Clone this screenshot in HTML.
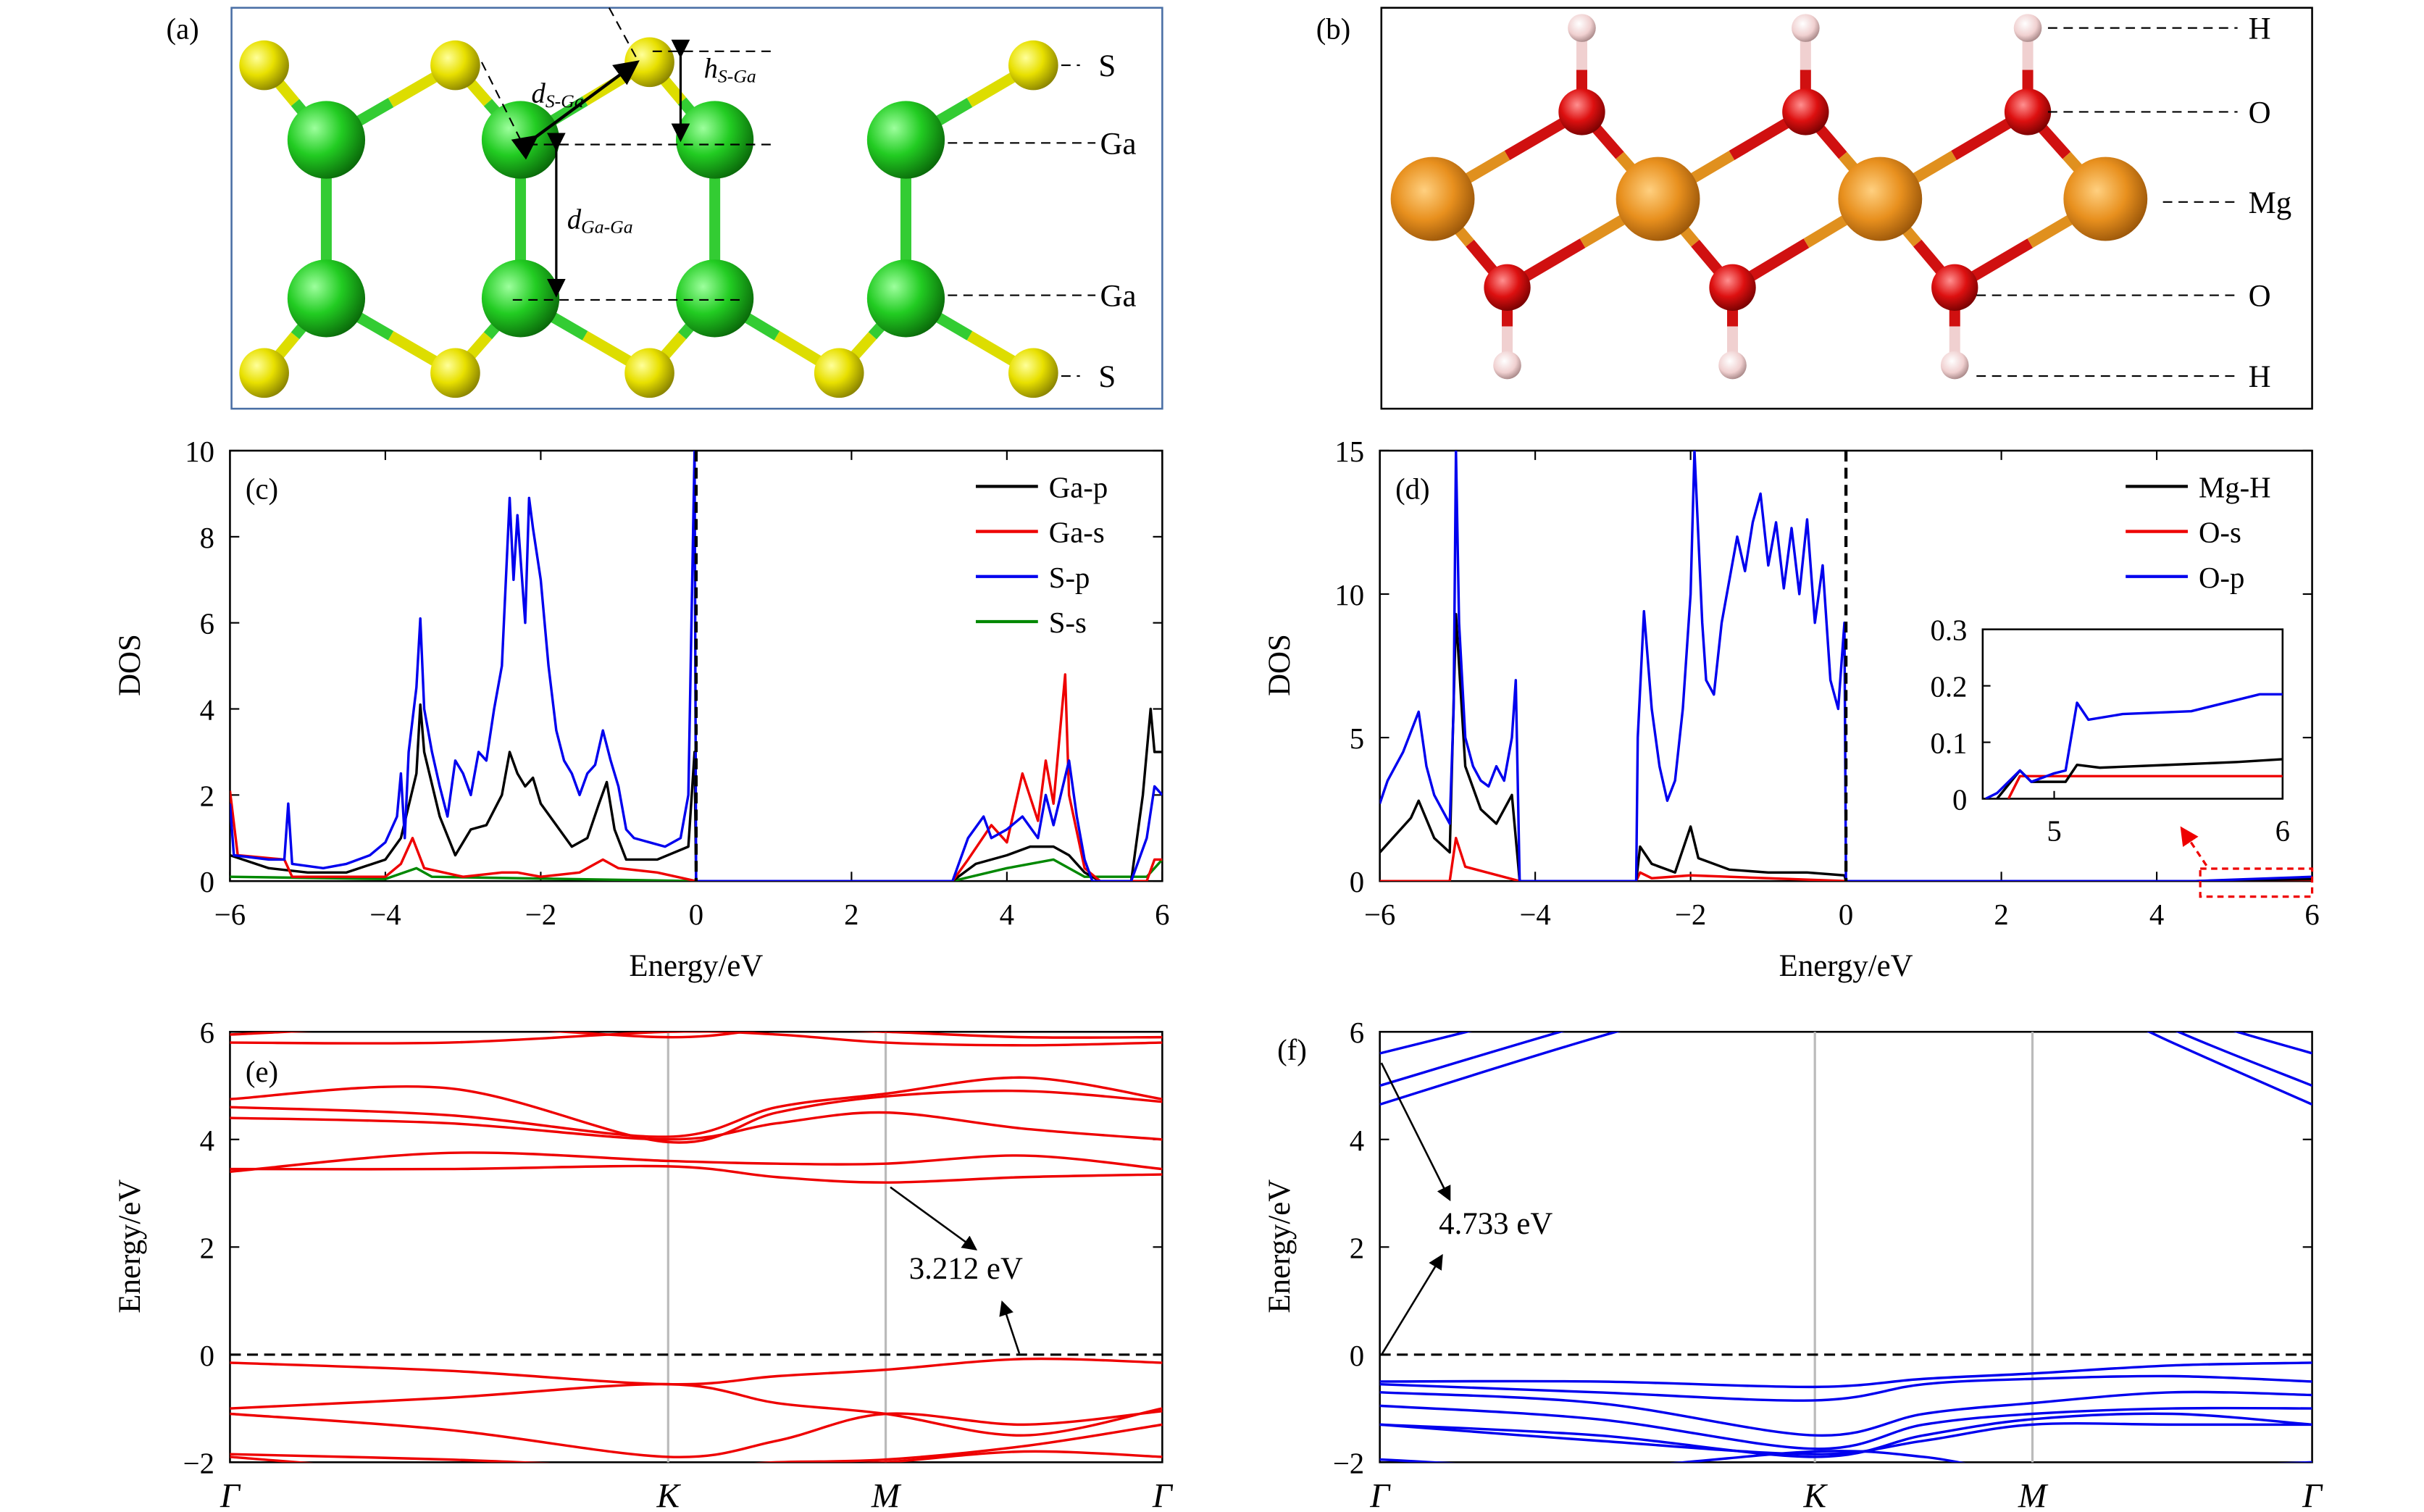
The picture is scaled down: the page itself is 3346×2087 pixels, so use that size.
<!DOCTYPE html>
<html><head><meta charset="utf-8">
<style>
html,body{margin:0;padding:0;background:#fff;}
svg{display:block;font-family:"Liberation Serif",serif;}
</style></head>
<body>
<svg id="fig" width="3346" height="2087" viewBox="0 0 1560 973" xmlns="http://www.w3.org/2000/svg">
<defs>
<radialGradient id="gS" cx="35%" cy="35%" r="70%"><stop offset="0" stop-color="#ffff9a"/><stop offset="0.5" stop-color="#e8e000"/><stop offset="1" stop-color="#8a8400"/></radialGradient>
<radialGradient id="gG" cx="35%" cy="35%" r="70%"><stop offset="0" stop-color="#9dff9d"/><stop offset="0.5" stop-color="#22cc22"/><stop offset="1" stop-color="#0a6a0a"/></radialGradient>
<radialGradient id="gM" cx="40%" cy="40%" r="70%"><stop offset="0" stop-color="#ffd080"/><stop offset="0.5" stop-color="#e8901e"/><stop offset="1" stop-color="#8a4a05"/></radialGradient>
<radialGradient id="gO" cx="40%" cy="35%" r="70%"><stop offset="0" stop-color="#ff9090"/><stop offset="0.5" stop-color="#dd1010"/><stop offset="1" stop-color="#700000"/></radialGradient>
<radialGradient id="gH" cx="40%" cy="35%" r="70%"><stop offset="0" stop-color="#fff"/><stop offset="0.6" stop-color="#f0d0d0"/><stop offset="1" stop-color="#a08080"/></radialGradient>
<clipPath id="clipC"><rect x="148" y="290" width="600" height="277"/></clipPath>
<clipPath id="clipD"><rect x="888" y="290" width="600" height="277"/></clipPath>
<clipPath id="clipE"><rect x="148" y="664" width="600" height="277"/></clipPath>
<clipPath id="clipF"><rect x="888" y="664" width="600" height="277"/></clipPath>
<clipPath id="clipI"><rect x="1276" y="405" width="193" height="109"/></clipPath>
<marker id="ah" markerWidth="8" markerHeight="8" refX="7" refY="4" orient="auto"><path d="M0,0 L8,4 L0,8 Z" fill="#000"/></marker>
<marker id="ahr" markerWidth="8" markerHeight="8" refX="7" refY="4" orient="auto"><path d="M0,0 L8,4 L0,8 Z" fill="#e00"/></marker>
</defs>
<g id="root"></g>
</svg>
<script>
const cGapE = [-6,-5.95,-5.5,-5.3,-5.25,-5.2,-4.8,-4.5,-4.2,-4,-3.85,-3.8,-3.75,-3.7,-3.6,-3.55,-3.5,-3.4,-3.3,-3.2,-3.1,-3,-2.9,-2.8,-2.7,-2.6,-2.5,-2.4,-2.35,-2.3,-2.2,-2.15,-2.1,-2.0,-1.9,-1.8,-1.7,-1.6,-1.5,-1.4,-1.3,-1.2,-1.1,-1.0,-0.9,-0.8,-0.6,-0.4,-0.2,-0.1,-0.02,0,3.3,3.5,3.7,3.8,4,4.2,4.4,4.5,4.6,4.8,4.9,5,5.1,5.6,5.8,5.9,6];
const cSp = [1.8,0.6,0.5,0.5,1.8,0.4,0.3,0.4,0.6,0.9,1.5,2.5,1,3,4.5,6.1,4,3,2.2,1.5,2.8,2.5,2,3,2.8,4,5,8.9,7,8.5,6,8.9,8.2,7,5,3.5,2.8,2.5,2,2.5,2.7,3.5,2.8,2.2,1.2,1.0,0.9,0.8,1.0,2,10,0,0,1,1.5,1,1.2,1.5,1,2,1.3,2.8,1.5,0.5,0,0,1,2.2,2];
const cGapE2 = [-6,-5.5,-5,-4.5,-4,-3.8,-3.6,-3.55,-3.5,-3.3,-3.1,-2.9,-2.7,-2.5,-2.4,-2.3,-2.2,-2.1,-2,-1.8,-1.6,-1.4,-1.25,-1.15,-1.05,-0.9,-0.5,-0.1,-0.02,0,3.3,3.6,4,4.3,4.6,4.8,5,5.2,5.6,5.75,5.85,5.9,6];
const cGap = [0.6,0.3,0.2,0.2,0.5,1,2.5,4.1,3,1.5,0.6,1.2,1.3,2,3,2.5,2.2,2.4,1.8,1.3,0.8,1,1.8,2.3,1.2,0.5,0.5,0.8,3,0,0,0.4,0.6,0.8,0.8,0.6,0.2,0,0,2,4,3,3];
const cGasE = [-6,-5.9,-5.3,-5.2,-4,-3.8,-3.65,-3.5,-3,-2.5,-2.3,-2,-1.5,-1.2,-1,-0.5,0,3.3,3.5,3.8,4,4.2,4.4,4.5,4.6,4.75,4.8,5,5.2,5.8,5.9,6];
const cGas = [2.1,0.6,0.5,0.1,0.1,0.4,1,0.3,0.1,0.2,0.2,0.1,0.2,0.5,0.3,0.2,0,0,0.5,1.3,0.9,2.5,1.4,2.8,1.8,4.8,2,0.3,0,0,0.5,0.5];
const cSsE = [-6,-4,-3.6,-3.4,0,3.3,4,4.6,5,5.8,6];
const cSs = [0.1,0.05,0.3,0.1,0,0,0.3,0.5,0.1,0.1,0.5];
const dOpE = [-6,-5.9,-5.8,-5.7,-5.6,-5.5,-5.4,-5.3,-5.2,-5.1,-5.05,-5.02,-4.98,-4.9,-4.8,-4.7,-4.6,-4.5,-4.4,-4.3,-4.25,-4.2,-2.7,-2.68,-2.6,-2.5,-2.4,-2.3,-2.2,-2.1,-2,-1.95,-1.9,-1.85,-1.8,-1.7,-1.6,-1.5,-1.4,-1.3,-1.2,-1.1,-1,-0.9,-0.8,-0.7,-0.6,-0.5,-0.4,-0.3,-0.2,-0.1,-0.02,0,4.5,6];
const dOp = [2.7,3.5,4,4.5,5.2,5.9,4,3,2.5,2,6,15,9,5,4,3.5,3.3,4,3.5,5,7,0,0,5,9.4,6,4,2.8,3.5,6,10,15,12,9,7,6.5,9,10.5,12,10.8,12.5,13.5,11,12.5,10.2,12.3,10,12.6,9,11,7,6,9,0,0,0.15];
const dMgE = [-6,-5.8,-5.6,-5.5,-5.3,-5.1,-5.02,-4.9,-4.7,-4.5,-4.3,-4.2,-2.7,-2.65,-2.5,-2.2,-2,-1.9,-1.5,-1,-0.5,-0.02,0,4.5,6];
const dMg = [1,1.6,2.2,2.8,1.5,1,9.3,4,2.5,2,3,0,0,1.2,0.6,0.3,1.9,0.8,0.4,0.3,0.3,0.2,0,0,0.07];
const dOsE = [-6,-5.1,-5.02,-4.9,-4.2,-2.7,-2.65,-2.5,-2,0,6];
const dOs = [0,0,1.5,0.5,0,0,0.3,0.1,0.2,0,0];
const iOpE = [4.7,4.75,4.85,4.9,5,5.05,5.1,5.15,5.3,5.6,5.9,6];
const iOp = [0,0.01,0.05,0.03,0.045,0.05,0.17,0.14,0.15,0.155,0.185,0.185];
const iMgE = [4.75,4.85,4.9,5.05,5.1,5.2,5.5,5.8,6];
const iMg = [0,0.05,0.03,0.03,0.06,0.055,0.06,0.065,0.07];
const iOsE = [4.8,4.85,5.1,6];
const iOs = [0,0.04,0.04,0.04];
const eBands = [
 [-0.15,-0.3,-0.55,-0.4,-0.28,-0.08,-0.15],
 [-1.0,-0.8,-0.55,-0.9,-1.1,-1.5,-1.0],
 [-1.1,-1.4,-1.9,-1.6,-1.1,-1.3,-1.05],
 [-1.85,-1.95,-2.1,-2.0,-1.95,-1.7,-1.3],
 [-1.9,-2.2,-2.3,-2.1,-2.0,-1.8,-1.9],
 [3.45,3.45,3.5,3.3,3.2,3.3,3.35],
 [3.4,3.75,3.6,3.55,3.55,3.7,3.45],
 [4.4,4.3,4.0,4.3,4.5,4.2,4.0],
 [4.75,4.95,3.95,4.5,4.8,4.9,4.7],
 [4.6,4.45,4.05,4.6,4.85,5.15,4.75],
 [5.8,5.8,6.0,5.95,5.8,5.75,5.8],
 [5.95,6.1,5.9,6.05,6.0,5.9,5.9]
];
const fBands = [
 [4.65,5.9,7,7.5,7,5.8,4.65],
 [5.0,6.2,7.3,7.7,7.3,6.05,5.0],
 [5.6,6.6,7.6,8,7.6,6.4,5.6],
 [-0.5,-0.5,-0.6,-0.45,-0.35,-0.2,-0.15],
 [-0.55,-0.7,-0.85,-0.55,-0.45,-0.4,-0.5],
 [-0.7,-0.9,-1.5,-1.1,-0.9,-0.7,-0.75],
 [-0.95,-1.2,-1.75,-1.3,-1.1,-1.0,-1.0],
 [-1.3,-1.6,-1.85,-1.6,-1.3,-1.3,-1.3],
 [-1.3,-1.5,-1.9,-1.5,-1.2,-1.1,-1.3],
 [-1.95,-2.1,-1.8,-1.9,-2.2,-2.1,-2.0]
];
const dosXTicks = [-6,-4,-2,0,2,4,6];
const cYTicks = [0,2,4,6,8,10];
const dYTicks = [0,5,10,15];
const bandYTicks = [-2,0,2,4,6];
const kLabels = ["Γ","K","M","Γ"];
const cLegend = ["Ga-p","Ga-s","S-p","S-s"];
const dLegend = ["Mg-H","O-s","O-p"];

const NS="http://www.w3.org/2000/svg";
const root=document.getElementById('root');
function mk(tag,attrs,parent){const e=document.createElementNS(NS,tag);for(const k in attrs)e.setAttribute(k,attrs[k]);(parent||root).appendChild(e);return e;}
function txt(x,y,s,size,anchor,parent,extra){const t=mk('text',Object.assign({x:x,y:y,'font-size':size,'text-anchor':anchor||'middle',fill:'#000'},extra||{}),parent);t.textContent=s;return t;}

function axesBox(x0,y0,w,h,xs,ys,xt,yt,name){
  const g=mk('g',{});
  
  
  mk('rect',{x:x0,y:y0,width:w,height:h,fill:'none',stroke:'#000','stroke-width':1.2},g);
  if(xt){xt.forEach(v=>{const x=xs(v);mk('line',{x1:x,y1:y0+h,x2:x,y2:y0+h-6,stroke:'#000'},g);mk('line',{x1:x,y1:y0,x2:x,y2:y0+6,stroke:'#000'},g);
    const t=txt(x,y0+h+28,(v<0?'\u2212'+(-v):''+v),19,'middle',g);});}
  yt.forEach(v=>{const y=ys(v);mk('line',{x1:x0,y1:y,x2:x0+6,y2:y,stroke:'#000'},g);mk('line',{x1:x0+w,y1:y,x2:x0+w-6,y2:y,stroke:'#000'},g);
    const t=txt(x0-10,y+7,(v<0?'\u2212'+(-v):''+v),19,'end',g);});
  return g;
}
function polyline(E,V,xs,ys,color,clip,name,w){
  let d='';E.forEach((e,i)=>{d+=(i?'L':'M')+xs(e).toFixed(2)+','+ys(V[i]).toFixed(2);});
  const p=mk('path',{d:d,fill:'none',stroke:color,'stroke-width':w||1.6,'clip-path':'url(#'+clip+')','stroke-linejoin':'round'});
  
  
  return p;
}

(function(){
  const g=mk('g',{});
  
  
  mk('rect',{x:149,y:5,width:599,height:258,fill:'#fff',stroke:'#4a6fa5','stroke-width':1.2},g);
  const Ga=[[210,90],[335,90],[460,90],[583,90],[210,192],[335,192],[460,192],[583,192]];
  const St=[[170,42],[293,42],[418,40],[665,42]];
  const Sb=[[170,240],[293,240],[418,240],[540,240],[665,240]];
  const bonds=[[0,4],[1,5],[2,6],[3,7]];
  bonds.forEach(b=>mk('line',{x1:Ga[b[0]][0],y1:Ga[b[0]][1],x2:Ga[b[1]][0],y2:Ga[b[1]][1],stroke:'#3c3',"stroke-width":7},g));
  [[St[0],Ga[0]],[St[1],Ga[0]],[St[1],Ga[1]],[St[2],Ga[1]],[St[2],Ga[2]],[St[3],Ga[3]],
   [Sb[0],Ga[4]],[Sb[1],Ga[4]],[Sb[1],Ga[5]],[Sb[2],Ga[5]],[Sb[2],Ga[6]],[Sb[3],Ga[6]],[Sb[3],Ga[7]],[Sb[4],Ga[7]]].forEach(p=>{
     const mx=(p[0][0]+p[1][0])/2,my=(p[0][1]+p[1][1])/2;
     mk('line',{x1:p[0][0],y1:p[0][1],x2:mx,y2:my,stroke:'#dd0','stroke-width':7},g);
     mk('line',{x1:mx,y1:my,x2:p[1][0],y2:p[1][1],stroke:'#3c3','stroke-width':7},g);
  });
  St.concat(Sb).forEach(a=>{const c=mk('circle',{cx:a[0],cy:a[1],r:16,fill:'url(#gS)'},g);});
  Ga.forEach(a=>{const c=mk('circle',{cx:a[0],cy:a[1],r:25,fill:'url(#gG)'},g);});
  const dl=[[683,42,'S'],[610,92,'Ga'],[610,190,'Ga'],[683,242,'S']];
  dl.forEach(l=>{mk('line',{x1:l[0],y1:l[1],x2:l[2]=='S'?695:705,y2:l[1],stroke:'#000','stroke-dasharray':'6,4'},g);txt(l[2]=='S'?707:708,l[1]+7,l[2],20,'start',g);});
  mk('line',{x1:340,y1:93,x2:500,y2:93,stroke:'#000','stroke-dasharray':'6,4'},g);
  mk('line',{x1:330,y1:193,x2:480,y2:193,stroke:'#000','stroke-dasharray':'6,4'},g);
  mk('line',{x1:420,y1:33,x2:500,y2:33,stroke:'#000','stroke-dasharray':'6,4'},g);
  mk('line',{x1:310,y1:40,x2:340,y2:100,stroke:'#000','stroke-dasharray':'6,4'},g);
  mk('line',{x1:392,y1:5,x2:410,y2:38,stroke:'#000','stroke-dasharray':'6,4'},g);
  mk('line',{x1:345,y1:88,x2:410,y2:40,stroke:'#000','stroke-width':2,'marker-end':'url(#ah)','marker-start':'url(#ah)'},g);
  mk('line',{x1:438,y1:36,x2:438,y2:90,stroke:'#000','stroke-width':1.5,'marker-end':'url(#ah)','marker-start':'url(#ah)'},g);
  mk('line',{x1:358,y1:96,x2:358,y2:190,stroke:'#000','stroke-width':1.5,'marker-end':'url(#ah)','marker-start':'url(#ah)'},g);
  const t1=txt(342,66,'d',18,'start',g,{'font-style':'italic'});const s1=mk('tspan',{'font-size':12,dy:3},t1);s1.textContent='S-Ga';
  const t2=txt(453,50,'h',18,'start',g,{'font-style':'italic'});const s2=mk('tspan',{'font-size':12,dy:3},t2);s2.textContent='S-Ga';
  const t3=txt(365,147,'d',18,'start',g,{'font-style':'italic'});const s3=mk('tspan',{'font-size':12,dy:3},t3);s3.textContent='Ga-Ga';
  const pl=txt(107,25,'(a)',19,'start',g);
})();
(function(){
  const g=mk('g',{});
  
  
  mk('rect',{x:889,y:5,width:599,height:258,fill:'#fff',stroke:'#000','stroke-width':1.2},g);
  const Mg=[[922,128],[1067,128],[1210,128],[1355,128]];
  const Ot=[[1018,72],[1162,72],[1305,72]], Ob=[[970,185],[1115,185],[1258,185]];
  const Ht=[[1018,18],[1162,18],[1305,18]], Hb=[[970,235],[1115,235],[1258,235]];
  function bond(a,b,c1,c2){const mx=(a[0]+b[0])/2,my=(a[1]+b[1])/2;mk('line',{x1:a[0],y1:a[1],x2:mx,y2:my,stroke:c1,'stroke-width':7},g);mk('line',{x1:mx,y1:my,x2:b[0],y2:b[1],stroke:c2,'stroke-width':7},g);}
  for(let i=0;i<3;i++){bond(Mg[i],Ot[i],'#e0901e','#d01010');bond(Ot[i],Mg[i+1],'#d01010','#e0901e');bond(Mg[i],Ob[i],'#e0901e','#d01010');bond(Ob[i],Mg[i+1],'#d01010','#e0901e');
    bond(Ot[i],Ht[i],'#d01010','#f0d0d0');bond(Ob[i],Hb[i],'#d01010','#f0d0d0');}
  Ht.concat(Hb).forEach(a=>{const c=mk('circle',{cx:a[0],cy:a[1],r:9,fill:'url(#gH)'},g);});
  Ot.concat(Ob).forEach(a=>{const c=mk('circle',{cx:a[0],cy:a[1],r:15,fill:'url(#gO)'},g);});
  Mg.forEach(a=>{const c=mk('circle',{cx:a[0],cy:a[1],r:27,fill:'url(#gM)'},g);});
  [[1318,18,1440,'H'],[1318,72,1440,'O'],[1392,130,1440,'Mg'],[1272,190,1440,'O'],[1272,242,1440,'H']].forEach(l=>{
    mk('line',{x1:l[0],y1:l[1],x2:l[2],y2:l[1],stroke:'#000','stroke-dasharray':'6,4'},g);txt(1447,l[1]+7,l[3],20,'start',g);});
  const pl=txt(847,25,'(b)',19,'start',g);
})();
(function(){
  const xs=e=>148+(e+6)*50, ys=v=>567-v*27.7;
  axesBox(148,290,600,277,xs,ys,dosXTicks,cYTicks,'panel-c-dos-axes');
  polyline(cSsE,cSs,xs,ys,'#080','clipC','s-s-line');
  polyline(cGapE2,cGap,xs,ys,'#000','clipC','ga-p-line');
  polyline(cGasE,cGas,xs,ys,'#e00','clipC','ga-s-line');
  polyline(cGapE,cSp,xs,ys,'#00e','clipC','s-p-line');
  mk('line',{x1:xs(0),y1:290,x2:xs(0),y2:567,stroke:'#000','stroke-width':2,'stroke-dasharray':'7,4'});
  const cols=['#000','#e00','#00e','#080'];
  cLegend.forEach((s,i)=>{const y=313+i*29;const l=mk('line',{x1:628,y1:y,x2:668,y2:y,stroke:cols[i],'stroke-width':2});
    const t=txt(675,y+7,s,19,'start');});
  const a=txt(158,321,'(c)',19,'start');
  const xl=txt(448,628,'Energy/eV',20);
  const yl=txt(90,428,'DOS',20,'middle',null,{transform:'rotate(-90 90 428)'});
})();
(function(){
  const xs=e=>888+(e+6)*50, ys=v=>567-v*18.47;
  axesBox(888,290,600,277,xs,ys,dosXTicks,dYTicks,'panel-d-dos-axes');
  polyline(dOsE,dOs,xs,ys,'#e00','clipD','o-s-line');
  polyline(dMgE,dMg,xs,ys,'#000','clipD','mg-h-line');
  polyline(dOpE,dOp,xs,ys,'#00e','clipD','o-p-line');
  mk('line',{x1:xs(0),y1:290,x2:xs(0),y2:567,stroke:'#000','stroke-width':2,'stroke-dasharray':'7,4'});
  const cols=['#000','#e00','#00e'];
  dLegend.forEach((s,i)=>{const y=313+i*29;const l=mk('line',{x1:1368,y1:y,x2:1408,y2:y,stroke:cols[i],'stroke-width':2});
    const t=txt(1415,y+7,s,19,'start');});
  const a=txt(898,321,'(d)',19,'start');
  const xl=txt(1188,628,'Energy/eV',20);
  const yl=txt(830,428,'DOS',20,'middle',null,{transform:'rotate(-90 830 428)'});
  const ix=e=>1322+(e-5)*147, iy=v=>514-v*363.3;
  const ig=mk('g',{});
  
  
  mk('rect',{x:1276,y:405,width:193,height:109,fill:'#fff',stroke:'#000','stroke-width':1.2},ig);
  [5,6].forEach(v=>{mk('line',{x1:ix(v),y1:514,x2:ix(v),y2:509,stroke:'#000'},ig);txt(ix(v),541,''+v,19,'middle',ig);});
  [0,0.1,0.2,0.3].forEach(v=>{mk('line',{x1:1276,y1:iy(v),x2:1281,y2:iy(v),stroke:'#000'},ig);txt(1266,iy(v)+7,''+v,19,'end',ig);});
  polyline(iOsE,iOs,ix,iy,'#e00','clipI','inset-o-s-line');
  polyline(iMgE,iMg,ix,iy,'#000','clipI','inset-mg-h-line');
  polyline(iOpE,iOp,ix,iy,'#00e','clipI','inset-o-p-line');
  mk('rect',{x:1416,y:559,width:72,height:18,fill:'none',stroke:'#e00','stroke-width':1.5,'stroke-dasharray':'4,3'});
  mk('line',{x1:1420,y1:557,x2:1404,y2:533,stroke:'#e00','stroke-width':1.5,'stroke-dasharray':'4,3','marker-end':'url(#ahr)'});
})();
function smoothPath(pts){
  let d='M'+pts[0][0]+','+pts[0][1];
  for(let i=0;i<pts.length-1;i++){const p0=pts[Math.max(0,i-1)],p1=pts[i],p2=pts[i+1],p3=pts[Math.min(pts.length-1,i+2)];
    const c1=[p1[0]+(p2[0]-p0[0])/6,p1[1]+(p2[1]-p0[1])/6],c2=[p2[0]-(p3[0]-p1[0])/6,p2[1]-(p3[1]-p1[1])/6];
    d+='C'+c1[0].toFixed(2)+','+c1[1].toFixed(2)+' '+c2[0].toFixed(2)+','+c2[1].toFixed(2)+' '+p2[0].toFixed(2)+','+p2[1].toFixed(2);}
  return d;
}
function bandPanel(x0,kx,bands,color,clip,label,lx,ly,name){
  const ys=v=>941-(v+2)*34.625;
  const kxs=s=>{const i=Math.min(2,Math.floor(s));return kx[i]+(kx[i+1]-kx[i])*(s-i);};
  axesBox(x0,664,600,277,kxs,ys,null,bandYTicks,name);
  [1,2].forEach(i=>mk('line',{x1:kx[i],y1:664,x2:kx[i],y2:941,stroke:'#bbb','stroke-width':1.5}));
  kLabels.forEach((s,i)=>{const t=txt(kx[i],970,s,22,'middle',null,{'font-style':'italic'});});
  mk('line',{x1:x0,y1:ys(0),x2:x0+600,y2:ys(0),stroke:'#000','stroke-width':1.5,'stroke-dasharray':'7,4'});
  bands.forEach(b=>{const pts=b.map((v,i)=>[kxs(i/2),ys(v)]);
    const p=mk('path',{d:smoothPath(pts),fill:'none',stroke:color,'stroke-width':1.6,'clip-path':'url(#'+clip+')'});
    
    });
  const a=txt(lx,ly,label,19,'start');
  const yl=txt(x0-58,802,'Energy/eV',20,'middle',null,{transform:'rotate(-90 '+(x0-58)+' 802)'});
}
bandPanel(148,[148,430,570,748],eBands,'#e00','clipE','(e)',158,696,'panel-e-band-axes');
bandPanel(888,[888,1168,1308,1488],fBands,'#00e','clipF','(f)',822,682,'panel-f-band-axes');
(function(){
  const t1=txt(585,823,'3.212 eV',20,'start');
  mk('line',{x1:573,y1:764,x2:628,y2:804,stroke:'#000','stroke-width':1.2,'marker-end':'url(#ah)'});
  mk('line',{x1:656,y1:871,x2:645,y2:838,stroke:'#000','stroke-width':1.2,'marker-end':'url(#ah)'});
  const t2=txt(926,794,'4.733 eV',20,'start');
  mk('line',{x1:889,y1:684,x2:933,y2:772,stroke:'#000','stroke-width':1.2,'marker-end':'url(#ah)'});
  mk('line',{x1:889,y1:872,x2:928,y2:808,stroke:'#000','stroke-width':1.2,'marker-end':'url(#ah)'});
})();
</script>
</body></html>
